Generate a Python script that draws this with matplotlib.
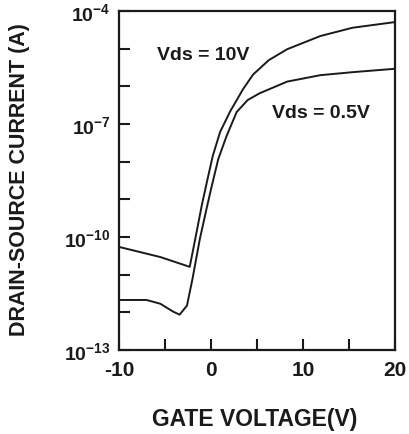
import numpy as np
import matplotlib
matplotlib.use("Agg")
import matplotlib.pyplot as plt

plt.rcParams['font.family'] = ['Liberation Sans', 'DejaVu Sans']
plt.rcParams['font.weight'] = 'bold'
plt.rcParams['mathtext.fontset'] = 'custom'
plt.rcParams['mathtext.rm'] = 'Liberation Sans:bold'
plt.rcParams['mathtext.bf'] = 'Liberation Sans:bold'
plt.rcParams['mathtext.it'] = 'Liberation Sans:bold'

# Vds = 10 V curve (gate voltage, log10 of current)
vg_10 = [-10, -5.5, -2.3, -1.7, -1.0, -0.4, 0.2, 1.0, 2.1, 3.5, 4.6, 6.3, 8.3, 11.9, 15.4, 20]
logi_10 = [-10.26, -10.53, -10.79, -10.05, -9.17, -8.50, -7.85, -7.21, -6.66, -6.07, -5.68, -5.30, -5.01, -4.66, -4.44, -4.29]

# Vds = 0.5 V curve
vg_05 = [-10, -7.0, -5.5, -4.1, -3.4, -2.6, -2.0, -1.2, -0.4, 0.1, 0.8, 1.7, 2.8, 4.0, 5.3, 8.3, 11.9, 15.4, 20]
logi_05 = [-11.67, -11.67, -11.77, -11.98, -12.06, -11.82, -11.11, -10.05, -9.17, -8.64, -7.93, -7.32, -6.68, -6.36, -6.18, -5.87, -5.70, -5.62, -5.53]

x_major = [-10, 0, 10, 20]
x_minor = [-5, 5, 15]
y_major_exp = [-4, -7, -10, -13]
y_minor_exp = [-5, -6, -8, -9, -11, -12]

fig = plt.figure(figsize=(4.10, 4.35), dpi=100)
ax = fig.add_axes([0.290, 0.193, 0.673, 0.779])

ink = '#1a1a1a'
ax.plot(vg_10, 10.0 ** np.array(logi_10), color=ink, lw=1.4)
ax.plot(vg_05, 10.0 ** np.array(logi_05), color=ink, lw=1.4)

ax.set_yscale('log')
ax.set_xlim(-10, 20)
ax.set_ylim(1e-13, 1e-4)

ax.set_xticks(x_major)
ax.set_xticklabels([str(v) for v in x_major], fontsize=15, fontweight='bold')
ax.set_xticks(x_minor, minor=True)
ax.set_yticks([10.0 ** e for e in y_major_exp])
ax.set_yticklabels([r'$\mathbf{10^{%d}}$' % e for e in y_major_exp], fontsize=14)
ax.set_yticks([10.0 ** e for e in y_minor_exp], minor=True)
ax.yaxis.set_minor_formatter(matplotlib.ticker.NullFormatter())

ax.tick_params(axis='both', which='both', direction='in', length=8, width=1.5, color=ink, labelcolor=ink)
ax.tick_params(axis='x', which='both', pad=7, top=False)
ax.tick_params(axis='y', which='both', pad=6, right=False)

for s in ax.spines.values():
    s.set_linewidth(1.6)
    s.set_color(ink)

fig.text(255 / 410, 1 - 420 / 435, 'GATE VOLTAGE(V)', fontsize=16.5, fontweight='bold',
         color=ink, ha='center', va='center')
fig.text(20 / 410, 1 - 180 / 435, 'DRAIN-SOURCE CURRENT (A)', fontsize=15.5, fontweight='bold',
         color=ink, ha='center', va='center', rotation=90)

ax.text(-5.9, 10 ** -5.14, 'Vds = 10V', fontsize=14, fontweight='bold', color=ink, va='center', ha='left')
ax.text(6.6, 10 ** -6.68, 'Vds = 0.5V', fontsize=14, fontweight='bold', color=ink, va='center', ha='left')

fig.savefig('out.png', dpi=100, facecolor='white')
